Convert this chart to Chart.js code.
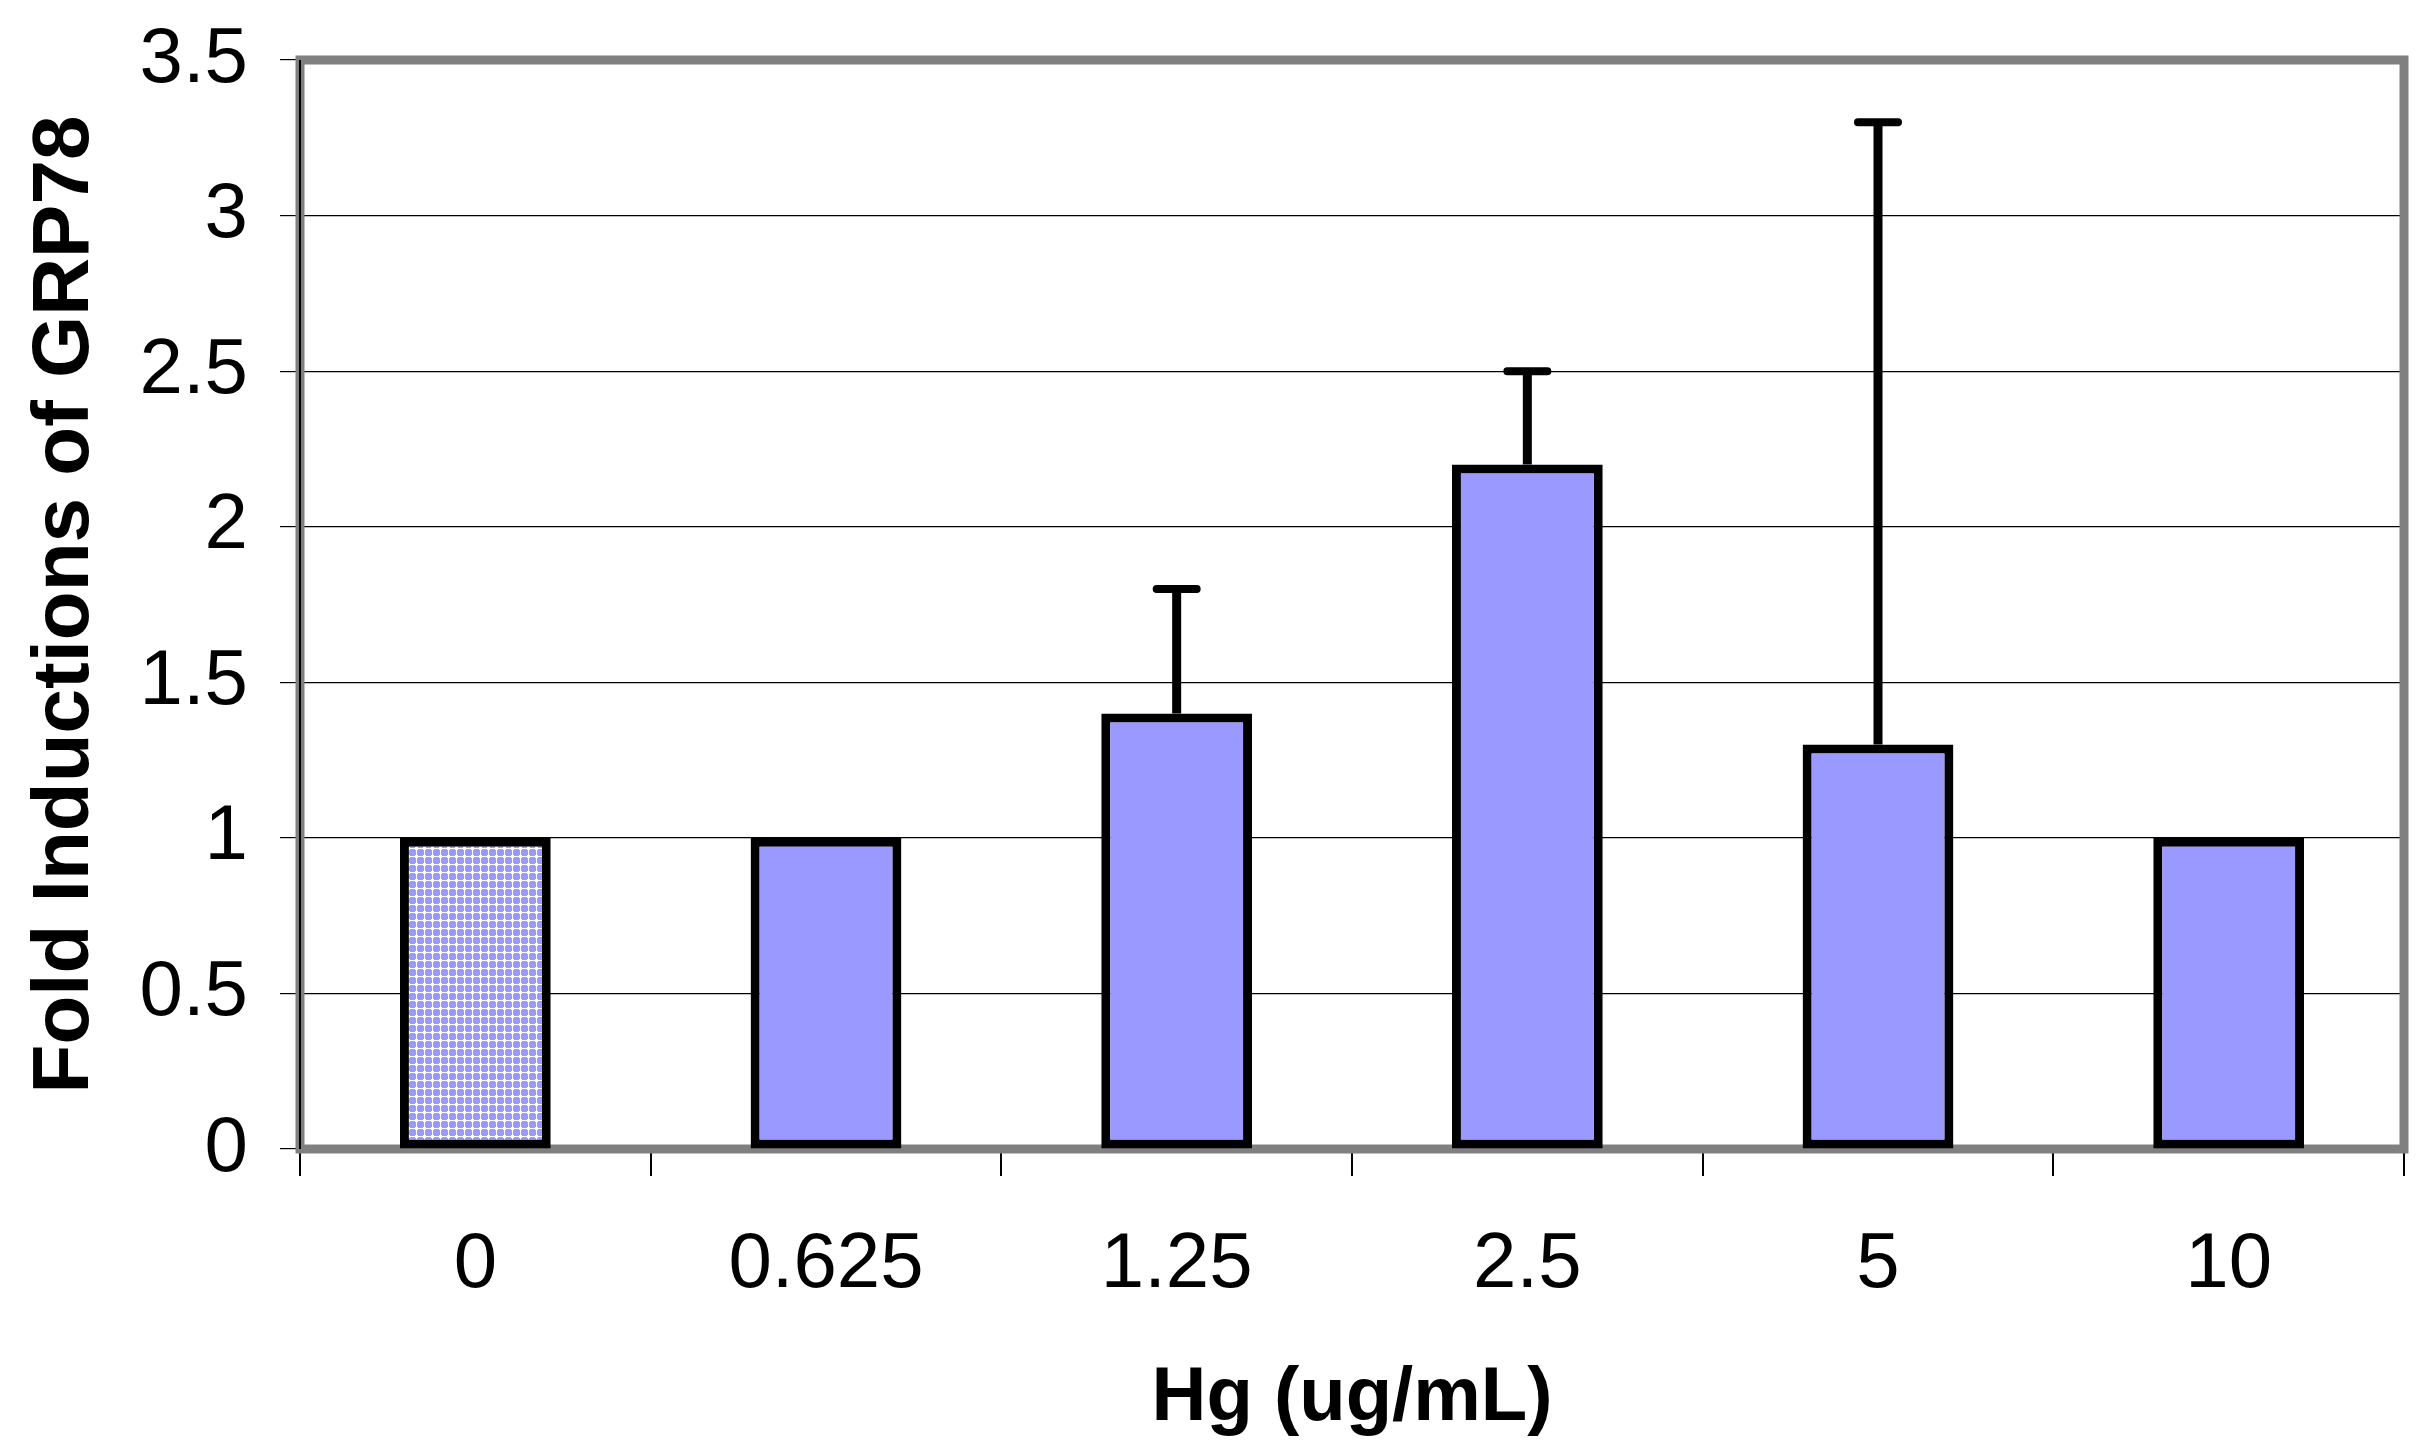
<!DOCTYPE html>
<html>
<head>
<meta charset="utf-8">
<script src="https://cdn.jsdelivr.net/npm/chart.js@4/dist/chart.umd.min.js"></script>
<style>
  html, body { margin: 0; padding: 0; background: #fff; }
  #wrap { width: 2427px; height: 1453px; }
</style>
</head>
<body>
<div id="wrap"><canvas id="grp78" width="2427" height="1453"></canvas></div>
<script>
const doses = ['0', '0.625', '1.25', '2.5', '5', '10'];
const foldInduction = [1, 1, 1.4, 2.2, 1.3, 1];
const errorUp = [0, 0, 0.4, 0.3, 2.0, 0];
const yTicks = [0, 0.5, 1, 1.5, 2, 2.5, 3, 3.5];

const ctx = document.getElementById('grp78').getContext('2d');

// dotted fill used by the control bar
const pattern = ctx.createPattern((() => {
    const c = document.createElement('canvas');
    c.width = 8; c.height = 8;
    const p = c.getContext('2d');
    p.fillStyle = '#9999ff';
    p.fillRect(0, 0, 8, 8);
    p.fillStyle = '#ffffff';
    p.fillRect(0, 0, 8, 1);
    p.fillRect(0, 0, 1, 8);
    p.fillRect(1, 1, 1, 1);
    p.fillRect(7, 1, 1, 1);
    p.fillRect(1, 7, 1, 1);
    p.fillRect(7, 7, 1, 1);
    return c;
})(), 'repeat');

const plotFrame = {
    id: 'plotFrame',
    beforeDatasetsDraw(chart) {
        const a = chart.chartArea;
        const c = chart.ctx;
        c.save();
        c.strokeStyle = '#808080';
        c.lineWidth = 9;
        c.strokeRect(a.left, a.top, a.right - a.left, a.bottom - a.top);
        c.strokeStyle = '#000';
        c.lineWidth = 2;
        c.beginPath();
        c.moveTo(a.left, a.top);
        c.lineTo(a.left, a.bottom);
        c.stroke();
        c.restore();
    }
};

const errorBars = {
    id: 'errorBars',
    afterDatasetsDraw(chart) {
        const meta = chart.getDatasetMeta(0);
        const y = chart.scales.y;
        const c = chart.ctx;
        c.save();
        c.strokeStyle = '#000';
        meta.data.forEach((bar, i) => {
            if (!errorUp[i]) return;
            const top = y.getPixelForValue(foldInduction[i] + errorUp[i]);
            const base = y.getPixelForValue(foldInduction[i]);
            c.lineWidth = 9;
            c.lineCap = 'butt';
            c.beginPath();
            c.moveTo(bar.x, base);
            c.lineTo(bar.x, top);
            c.stroke();
            c.lineWidth = 8;
            c.lineCap = 'round';
            c.beginPath();
            c.moveTo(bar.x - 20, top);
            c.lineTo(bar.x + 20, top);
            c.stroke();
        });
        c.restore();
    }
};

new Chart(ctx, {
    type: 'bar',
    data: {
        labels: doses,
        datasets: [{
            data: foldInduction,
            backgroundColor: foldInduction.map((v, i) => i === 0 ? pattern : '#9999ff'),
            borderColor: '#000',
            borderWidth: 9,
            borderSkipped: false,
            barPercentage: 0.43,
            categoryPercentage: 1.0
        }]
    },
    options: {
        responsive: false,
        animation: false,
        devicePixelRatio: 1,
        layout: {
            padding: { top: 60, right: 23, bottom: 0, left: 0 }
        },
        scales: {
            y: {
                min: 0,
                max: 3.5,
                afterFit(scale) {
                    scale.width = 300;
                    scale.paddingTop = 0;
                    scale.paddingBottom = 0;
                },
                afterBuildTicks(scale) { scale.ticks = yTicks.map(v => ({ value: v })); },
                grid: {
                    color: '#000',
                    lineWidth: 1.2,
                    tickLength: 20
                },
                border: { display: true, color: '#000', width: 2 },
                ticks: {
                    color: '#000',
                    padding: 32,
                    font: { family: '"Liberation Sans", Arial, sans-serif', size: 78 },
                    callback: v => String(v)
                },
                title: {
                    display: true,
                    text: 'Fold Inductions of GRP78',
                    color: '#000',
                    font: { family: '"Liberation Sans", Arial, sans-serif', size: 80, weight: 'bold' },
                    padding: { top: 18, bottom: 0 }
                }
            },
            x: {
                afterFit(scale) { scale.height = 304; },
                grid: {
                    offset: true,
                    drawOnChartArea: false,
                    color: '#000',
                    lineWidth: 2,
                    tickLength: 27
                },
                border: { display: true, color: '#000', width: 2 },
                ticks: {
                    color: '#000',
                    padding: 43,
                    maxRotation: 0,
                    font: { family: '"Liberation Sans", Arial, sans-serif', size: 78 }
                },
                title: {
                    display: true,
                    text: 'Hg (ug/mL)',
                    color: '#000',
                    font: { family: '"Liberation Sans", Arial, sans-serif', size: 76, weight: 'bold' },
                    padding: { top: 0, bottom: 8 }
                }
            }
        },
        plugins: {
            legend: { display: false },
            tooltip: { enabled: false }
        }
    },
    plugins: [plotFrame, errorBars]
});
</script>
</body>
</html>
